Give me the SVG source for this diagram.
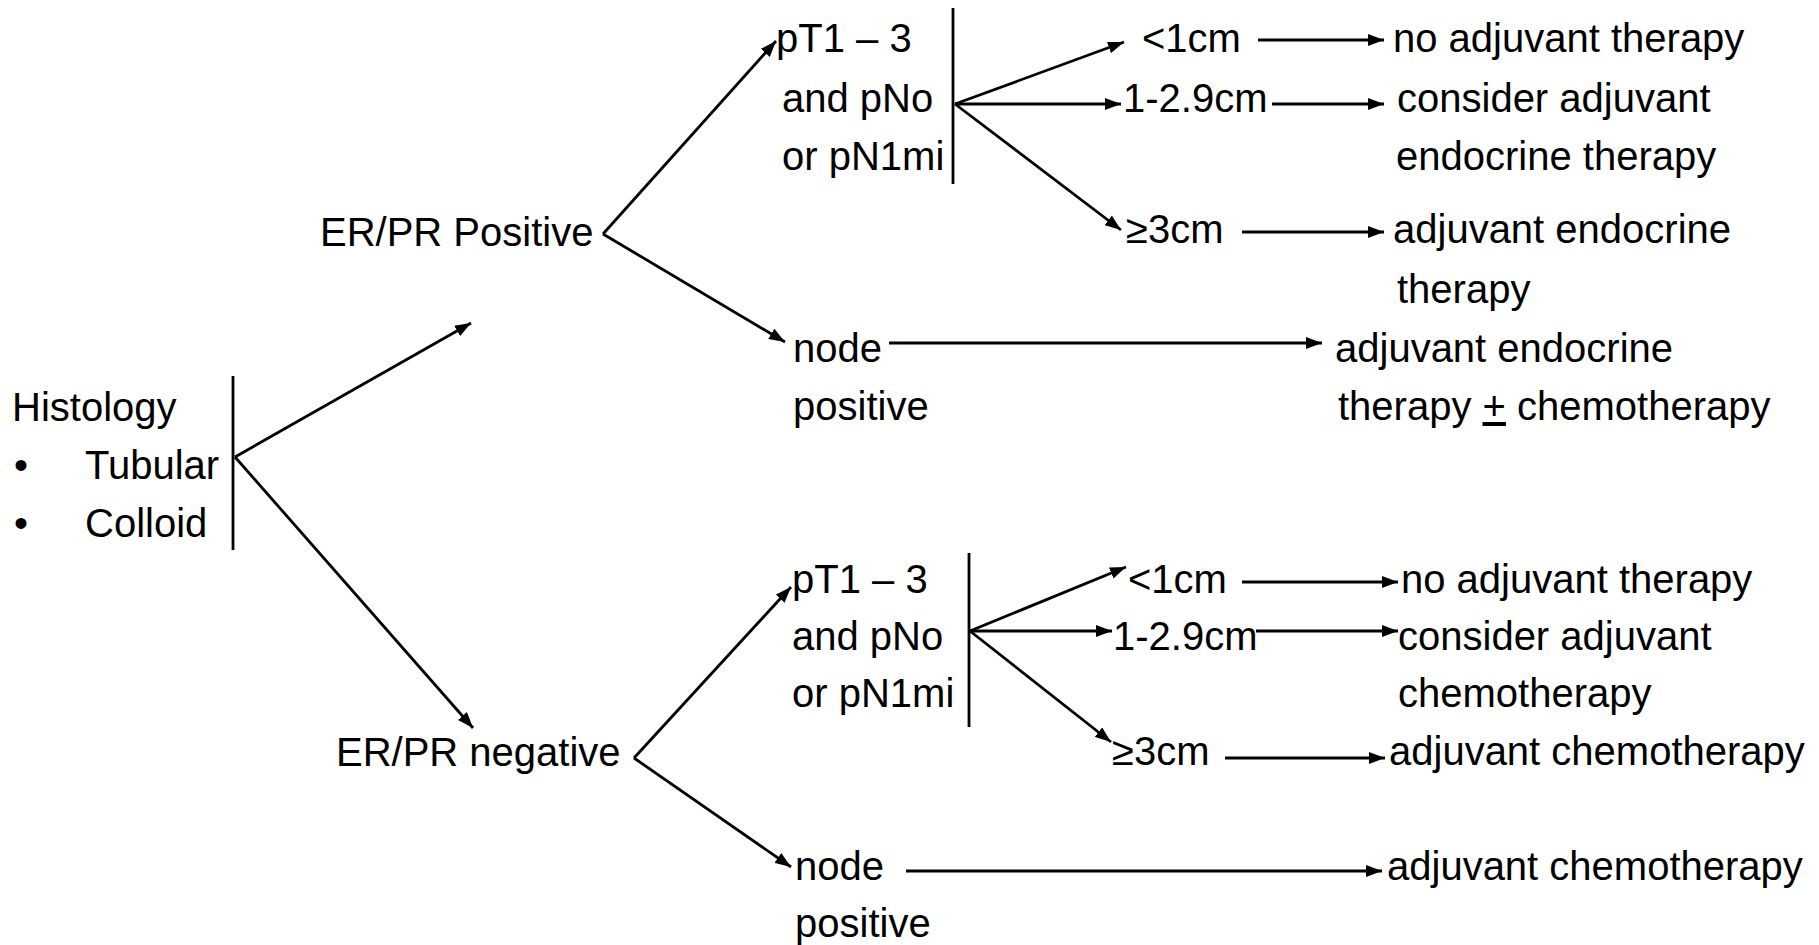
<svg xmlns="http://www.w3.org/2000/svg" width="1819" height="945" viewBox="0 0 1819 945">
<defs>
<style>
text{font-family:"Liberation Sans",Arial,sans-serif;font-size:40px;fill:#000}
.c line{stroke:#000;stroke-width:2.8}
.c line.a{marker-end:url(#ah)}
.bar{stroke:#000;stroke-width:2.8}
</style>
<marker id="ah" markerUnits="userSpaceOnUse" markerWidth="16" markerHeight="12" refX="16" refY="6" orient="auto">
<path d="M0,0 L16,6 L0,12 z" fill="#000"/>
</marker>
</defs>
<rect width="1819" height="945" fill="#fff"/>
<g id="connectors" class="c">
<line class="a" x1="235" y1="457" x2="471" y2="323"/>
<line class="a" x1="235" y1="457" x2="473" y2="728"/>
<line class="a" x1="603" y1="234" x2="776" y2="41"/>
<line class="a" x1="603" y1="234" x2="785" y2="342"/>
<line class="a" x1="955" y1="104" x2="1124" y2="42"/>
<line class="a" x1="955" y1="104" x2="1121" y2="104"/>
<line class="a" x1="955" y1="104" x2="1121" y2="230"/>
<line class="a" x1="1258" y1="40" x2="1384" y2="40"/>
<line class="a" x1="1272" y1="104" x2="1384" y2="104"/>
<line class="a" x1="1242" y1="232" x2="1384" y2="232"/>
<line class="a" x1="889" y1="343" x2="1322" y2="343"/>
<line class="a" x1="634" y1="758" x2="791" y2="587"/>
<line class="a" x1="634" y1="758" x2="791" y2="867"/>
<line class="a" x1="970" y1="631" x2="1126" y2="567"/>
<line class="a" x1="970" y1="631" x2="1112" y2="631"/>
<line class="a" x1="970" y1="631" x2="1111" y2="742"/>
<line class="a" x1="1242" y1="582" x2="1398" y2="582"/>
<line class="a" x1="1256" y1="631" x2="1398" y2="631"/>
<line class="a" x1="1225" y1="758" x2="1385" y2="758"/>
<line class="a" x1="906" y1="871" x2="1382" y2="871"/>
</g>
<g id="histology">
<line class="bar" x1="233" y1="376" x2="233" y2="550"/>
<text x="12" y="421">Histology</text>
<text x="14" y="479">•</text>
<text x="85" y="479">Tubular</text>
<text x="14" y="537">•</text>
<text x="85" y="537">Colloid</text>
</g>
<g id="er-pos"><text x="320" y="246">ER/PR Positive</text></g>
<g id="er-neg"><text x="336" y="766">ER/PR negative</text></g>
<g id="pos-pt">
<line class="bar" x1="953" y1="8" x2="953" y2="184"/>
<text x="776" y="52">pT1 – 3</text>
<text x="782" y="112">and pNo</text>
<text x="782" y="170">or pN1mi</text>
</g>
<g id="pos-lt1"><text x="1142" y="52">&lt;1cm</text></g>
<g id="pos-1to3"><text x="1123" y="112">1-2.9cm</text></g>
<g id="pos-ge3"><text x="1126" y="243">≥3cm</text></g>
<g id="pos-r1"><text x="1393" y="52">no adjuvant therapy</text></g>
<g id="pos-r2"><text x="1397" y="112">consider adjuvant</text><text x="1396" y="170">endocrine therapy</text></g>
<g id="pos-r3"><text x="1393" y="243">adjuvant endocrine</text><text x="1397" y="303">therapy</text></g>
<g id="pos-node"><text x="793" y="362">node</text><text x="793" y="420">positive</text></g>
<g id="pos-r4"><text x="1335" y="362">adjuvant endocrine</text><text x="1338" y="420">therapy <tspan text-decoration="underline">+</tspan> chemotherapy</text></g>
<g id="neg-pt">
<line class="bar" x1="969" y1="553" x2="969" y2="727"/>
<text x="792" y="593">pT1 – 3</text>
<text x="792" y="650">and pNo</text>
<text x="792" y="707">or pN1mi</text>
</g>
<g id="neg-lt1"><text x="1128" y="593">&lt;1cm</text></g>
<g id="neg-1to3"><text x="1113" y="650">1-2.9cm</text></g>
<g id="neg-ge3"><text x="1112" y="765">≥3cm</text></g>
<g id="neg-r1"><text x="1401" y="593">no adjuvant therapy</text></g>
<g id="neg-r2"><text x="1398" y="650">consider adjuvant</text><text x="1398" y="707">chemotherapy</text></g>
<g id="neg-r3"><text x="1389" y="765">adjuvant chemotherapy</text></g>
<g id="neg-node"><text x="795" y="880">node</text><text x="795" y="937">positive</text></g>
<g id="neg-r4"><text x="1387" y="880">adjuvant chemotherapy</text></g>
</svg>
